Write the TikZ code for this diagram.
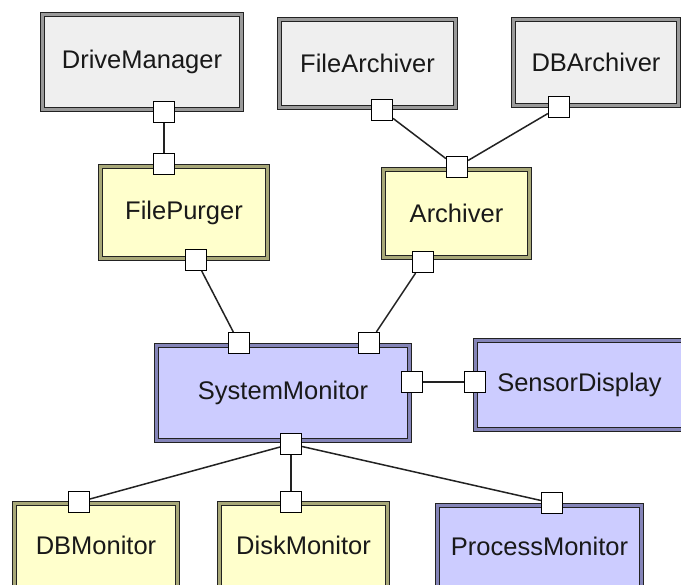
\documentclass[tikz,border=0pt]{standalone}
\usepackage{fontspec}
\setmainfont{Liberation Sans}
\definecolor{grayfill}{HTML}{EFEFEF}
\definecolor{graymid}{HTML}{9A9A9A}
\definecolor{yelfill}{HTML}{FFFFCC}
\definecolor{yelmid}{HTML}{A8A878}
\definecolor{purfill}{HTML}{CCCCFF}
\definecolor{purmid}{HTML}{8484B8}
\definecolor{edge}{HTML}{222222}
\begin{document}
\begin{tikzpicture}[x=1pt,y=-1pt,
  comp/.style={draw=edge, line width=1.4pt, double distance=2.2pt,
    inner sep=0pt, font=\fontsize{25.5}{30}\selectfont, text=black!90},
  graycomp/.style={comp, fill=grayfill, double=graymid},
  yelcomp/.style={comp, fill=yelfill, double=yelmid},
  purcomp/.style={comp, fill=purfill, double=purmid},
  port/.style={draw=black, fill=white, line width=1.2pt, inner sep=0pt,
    minimum size=21pt},
  wire/.style={draw=edge, line width=1.5pt}]
\useasboundingbox (0,0) rectangle (681,585);
\clip (0,0) rectangle (681,585);
\fill[white] (0,0) rectangle (681,585);

% components
\node[graycomp, minimum width=199pt, minimum height=95pt] (dm) at (142,62) {DriveManager};
\node[graycomp, minimum width=176pt, minimum height=88pt] (fa) at (367.5,63.5) {FileArchiver};
\node[graycomp, minimum width=165pt, minimum height=86pt] (dba) at (596,62.5) {DBArchiver};
\node[yelcomp, minimum width=167pt, minimum height=92pt] (fp) at (184,212.5) {FilePurger};
\node[yelcomp, minimum width=146pt, minimum height=88pt] (ar) at (456.5,213.5) {Archiver};
\node[purcomp, minimum width=253pt, minimum height=95pt] (sm) at (283,393) {SystemMonitor};
\node[purcomp, minimum width=208pt, minimum height=89pt] (sd) at (579.5,385) {SensorDisplay};
\node[yelcomp, minimum width=163pt, minimum height=84pt] (dbm) at (96,545.5) {DBMonitor};
\node[yelcomp, minimum width=168pt, minimum height=84pt] (dkm) at (303.5,545.5) {DiskMonitor};
\node[purcomp, minimum width=204pt, minimum height=82pt] (pm) at (539.5,546.5) {ProcessMonitor};

% ports
\node[port] (dm-s) at (164,112) {};
\node[port] (fa-s) at (382,110) {};
\node[port] (dba-s) at (559,107) {};
\node[port] (fp-n) at (164,164) {};
\node[port] (fp-s) at (196,260) {};
\node[port] (ar-n) at (457,167) {};
\node[port] (ar-s) at (423,262) {};
\node[port] (sm-nw) at (239,343) {};
\node[port] (sm-ne) at (369,343) {};
\node[port] (sm-e) at (412,382) {};
\node[port] (sm-s) at (291,444) {};
\node[port] (sd-w) at (475,382) {};
\node[port] (dbm-n) at (79,502) {};
\node[port] (dkm-n) at (291,502) {};
\node[port] (pm-n) at (552,503) {};

% connectors
\path[wire] (dm-s) -- (fp-n);
\path[wire] (fa-s) -- (ar-n);
\path[wire] (dba-s) -- (ar-n);
\path[wire] (fp-s) -- (sm-nw);
\path[wire] (ar-s) -- (sm-ne);
\path[wire] (sm-e) -- (sd-w);
\path[wire] (sm-s) -- (dbm-n);
\path[wire] (sm-s) -- (dkm-n);
\path[wire] (sm-s) -- (pm-n);
\end{tikzpicture}
\end{document}
